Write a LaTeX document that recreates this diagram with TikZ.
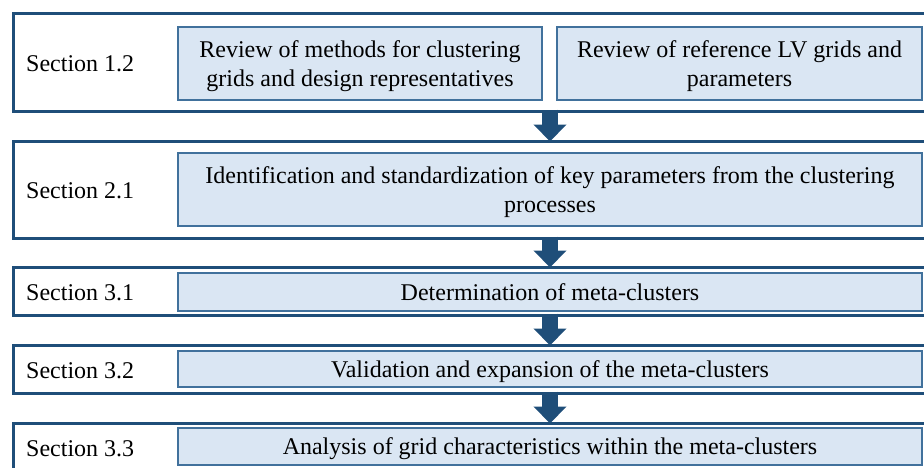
\documentclass[tikz,border=0pt]{standalone}
\usepackage{fontspec}
\setmainfont{Liberation Serif}
\usetikzlibrary{arrows.meta}

\definecolor{navy}{HTML}{1F4E79}
\definecolor{boxline}{HTML}{41719C}
\definecolor{boxfill}{HTML}{DAE6F3}

\tikzset{
	outer/.style={draw=navy, line width=3pt, minimum width=927pt, inner sep=0pt},
	inner/.style={draw=boxline, fill=boxfill, line width=1.2pt, align=center, inner sep=0pt, text depth=0pt},
	label/.style={anchor=west, inner sep=0pt, yshift=-1.5pt},
	flow/.style={navy, line width=16pt, -{Triangle[width=32pt,length=17pt]}}
}

\begin{document}
\begin{tikzpicture}[x=1pt, y=-1pt, font=\fontsize{24}{29}\selectfont]
	\useasboundingbox (0,0) rectangle (924,467);
	\clip (0,0) rectangle (924,467);
	\coordinate (axis) at (550,0);

	\node[outer, minimum height=98pt] (s12) at (476.5,62) {};
	\node[outer, minimum height=97pt] (s21) at (476.5,189.5) {};
	\node[outer, minimum height=48pt] (s31) at (476.5,291) {};
	\node[outer, minimum height=48pt] (s32) at (476.5,369) {};
	\node[outer, minimum height=48pt] (s33) at (476.5,447) {};

	\node[label] (l12) at (26,62) {Section 1.2};
	\node[label] (l21) at (26,189.5) {Section 2.1};
	\node[label] (l31) at (26,291) {Section 3.1};
	\node[label] (l32) at (26,369) {Section 3.2};
	\node[label] (l33) at (26,447) {Section 3.3};

	\node[inner, minimum width=364pt, minimum height=73pt] (rev1) at (360,63.5) {Review of methods for clustering\\grids and design representatives};
	\node[inner, minimum width=365pt, minimum height=73pt] (rev2) at (739.5,63.5) {Review of reference LV grids and\\parameters};
	\node[inner, minimum width=744pt, minimum height=73pt] (ident) at (550,189.5) {Identification and standardization of key parameters from the clustering\\processes};
	\node[inner, minimum width=744pt, minimum height=38pt] (meta) at (550,292) {Determination of meta-clusters};
	\node[inner, minimum width=744pt, minimum height=36pt] (valid) at (550,369) {Validation and expansion of the meta-clusters};
	\node[inner, minimum width=744pt, minimum height=37pt] (anal) at (550,446.5) {Analysis of grid characteristics within the meta-clusters};

	\draw [flow] ([yshift=3pt]s12.south -| axis) -- ([yshift=-2pt]s21.north -| axis);
	\draw [flow] ([yshift=3pt]s21.south -| axis) -- ([yshift=-2pt]s31.north -| axis);
	\draw [flow] ([yshift=3pt]s31.south -| axis) -- ([yshift=-2pt]s32.north -| axis);
	\draw [flow] ([yshift=3pt]s32.south -| axis) -- ([yshift=-2pt]s33.north -| axis);
\end{tikzpicture}
\end{document}
